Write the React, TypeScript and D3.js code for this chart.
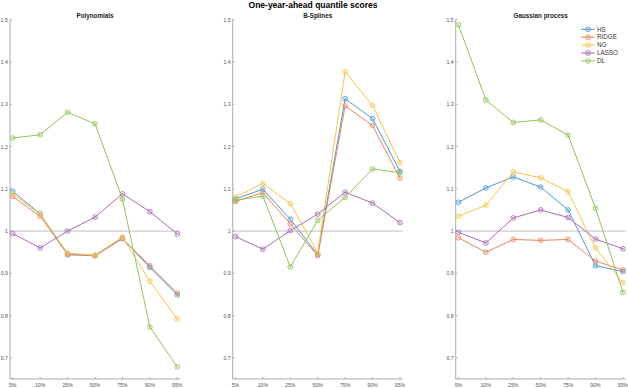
import React from "react";
import * as d3 from "d3";

const quantiles = ["5%", "10%", "25%", "50%", "75%", "90%", "95%"];
const seriesNames = ["HS", "RIDGE", "NG", "LASSO", "DL"];
const seriesColors = ["#4a9ad4", "#e8865e", "#f4c44c", "#a86bb8", "#93c257"];
const panelTitles = ["Polynomials", "B-Splines", "Gaussian process"];
const yTicks = [0.7, 0.8, 0.9, 1, 1.1, 1.2, 1.3, 1.4, 1.5];

// Polynomials
const polyHS = [1.094, 1.041, 0.944, 0.942, 0.983, 0.914, 0.849];
const polyRIDGE = [1.082, 1.035, 0.945, 0.941, 0.982, 0.918, 0.853];
const polyNG = [1.088, 1.04, 0.948, 0.943, 0.986, 0.881, 0.792];
const polyLASSO = [0.994, 0.96, 1.0, 1.033, 1.088, 1.046, 0.993];
const polyDL = [1.22, 1.228, 1.281, 1.254, 1.076, 0.773, 0.679];

// B-Splines
const splHS = [1.076, 1.099, 1.028, 0.944, 1.313, 1.266, 1.141];
const splRIDGE = [1.07, 1.091, 1.017, 0.942, 1.296, 1.25, 1.125];
const splNG = [1.08, 1.113, 1.065, 0.949, 1.377, 1.297, 1.162];
const splLASSO = [0.987, 0.957, 1.001, 1.04, 1.092, 1.066, 1.02];
const splDL = [1.073, 1.083, 0.915, 1.025, 1.08, 1.147, 1.138];

// Gaussian process
const gpHS = [1.068, 1.102, 1.128, 1.104, 1.05, 0.918, 0.904];
const gpRIDGE = [0.984, 0.95, 0.98, 0.978, 0.98, 0.929, 0.908];
const gpNG = [1.035, 1.061, 1.14, 1.126, 1.093, 0.96, 0.878];
const gpLASSO = [0.997, 0.972, 1.031, 1.05, 1.032, 0.981, 0.958];
const gpDL = [1.488, 1.31, 1.257, 1.263, 1.227, 1.054, 0.855];

const panels = [
  [polyHS, polyRIDGE, polyNG, polyLASSO, polyDL],
  [splHS, splRIDGE, splNG, splLASSO, splDL],
  [gpHS, gpRIDGE, gpNG, gpLASSO, gpDL],
];

const W = 628;
const H = 388;
const panelLefts = [10, 232.7, 455.7];
const panelWidth = 170;
const yTop = 19.7;
const yBottom = 379;

function Marker({ x, y, color }: { x: number; y: number; color: string }) {
  const r = 2.4;
  const d = r * 0.7;
  return (
    <g>
      <circle cx={x} cy={y} r={r} fill="none" stroke={color} strokeWidth={0.8} />
      <line x1={x - d} y1={y - d} x2={x + d} y2={y + d} stroke={color} strokeWidth={0.6} />
      <line x1={x - d} y1={y + d} x2={x + d} y2={y - d} stroke={color} strokeWidth={0.6} />
    </g>
  );
}

export default function App() {
  const y = d3.scaleLinear().domain([0.65, 1.5]).range([yBottom, yTop]);
  const font = "Helvetica, Arial, 'Liberation Sans', sans-serif";
  return (
    <svg
      width={W}
      height={H}
      style={{ position: "absolute", left: 0, top: 0, background: "#fff" }}
      fontFamily={font}
    >
      <text x={313} y={8} textAnchor="middle" fontSize={8.5} fontWeight="bold" fill="#000">
        One-year-ahead quantile scores
      </text>
      {panels.map((series, pi) => {
        const left = panelLefts[pi];
        const x = d3
          .scaleLinear()
          .domain([0.9, 7.1])
          .range([left, left + panelWidth]);
        const line = d3
          .line<number>()
          .x((_, i) => x(i + 1))
          .y((v) => y(v));
        return (
          <g key={pi}>
            <text
              x={left + panelWidth / 2}
              y={18}
              textAnchor="middle"
              fontSize={6.3}
              fontWeight="bold"
              fill="#222"
            >
              {panelTitles[pi]}
            </text>
            {/* reference line at 1 */}
            <line
              x1={left}
              x2={left + panelWidth}
              y1={y(1)}
              y2={y(1)}
              stroke="#b8b8b8"
              strokeWidth={0.9}
            />
            {/* axes */}
            <line x1={left} x2={left} y1={yTop} y2={yBottom} stroke="#888" strokeWidth={0.7} />
            <line
              x1={left}
              x2={left + panelWidth}
              y1={yBottom}
              y2={yBottom}
              stroke="#888"
              strokeWidth={0.7}
            />
            {yTicks.map((t) => (
              <g key={t}>
                <line x1={left} x2={left + 2} y1={y(t)} y2={y(t)} stroke="#888" strokeWidth={0.6} />
                <text
                  x={left - 2}
                  y={y(t) + 2}
                  textAnchor="end"
                  fontSize={5.2}
                  fill="#555"
                >
                  {d3.format("")(t)}
                </text>
              </g>
            ))}
            {quantiles.map((q, i) => (
              <g key={q}>
                <line
                  x1={x(i + 1)}
                  x2={x(i + 1)}
                  y1={yBottom}
                  y2={yBottom - 2}
                  stroke="#888"
                  strokeWidth={0.6}
                />
                <text
                  x={x(i + 1)}
                  y={yBottom + 7.5}
                  textAnchor="middle"
                  fontSize={5.2}
                  fill="#555"
                >
                  {q}
                </text>
              </g>
            ))}
            {series.map((vals, si) => (
              <g key={si}>
                <path
                  d={line(vals) || ""}
                  fill="none"
                  stroke={seriesColors[si]}
                  strokeWidth={1}
                />
                {vals.map((v, i) => (
                  <Marker key={i} x={x(i + 1)} y={y(v)} color={seriesColors[si]} />
                ))}
              </g>
            ))}
          </g>
        );
      })}
      {/* legend */}
      {seriesNames.map((name, i) => {
        const ly = 29.3 + i * 7.9;
        return (
          <g key={name}>
            <line x1={581} x2={595} y1={ly} y2={ly} stroke={seriesColors[i]} strokeWidth={1} />
            <Marker x={588} y={ly} color={seriesColors[i]} />
            <text x={597} y={ly + 2.2} fontSize={6.3} fill="#333">
              {name}
            </text>
          </g>
        );
      })}
    </svg>
  );
}
